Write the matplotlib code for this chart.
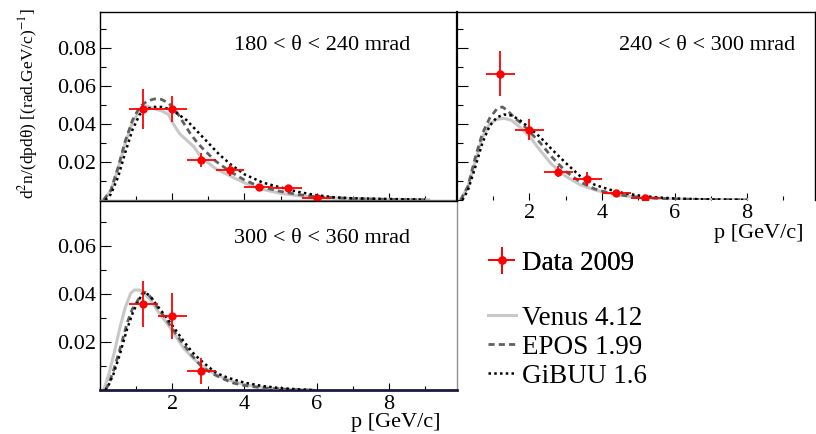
import matplotlib
matplotlib.use("Agg")
import matplotlib.pyplot as plt
import matplotlib.ticker as mticker

SERIF = 'Liberation Serif'
plt.rcParams['font.family'] = SERIF
plt.rcParams['font.serif'] = [SERIF]
plt.rcParams['mathtext.fontset'] = 'stix'

# ---------------- data ----------------
# 180 < theta < 240 mrad
d1_p = [1.2, 2.0, 2.8, 3.6, 4.4, 5.2, 6.0]
d1_y = [0.048, 0.048, 0.0212, 0.0157, 0.0066, 0.0063, 0.0009]
d1_ey = [0.0105, 0.007, 0.0038, 0.003, 0.002, 0.0015, 0.0005]

venus1_p = [0.1, 0.3, 0.5, 0.7, 0.9, 1.1, 1.3, 1.5, 1.7, 1.9, 2.0, 2.2, 2.4, 2.6, 2.8,
            3.2, 3.6, 4.0, 4.4, 5.0, 5.5, 6.0, 7.0, 8.0, 9.1]
venus1_y = [0.0, 0.005, 0.0165, 0.030, 0.041, 0.047, 0.0495, 0.048, 0.047, 0.045, 0.041,
            0.035, 0.0315, 0.028, 0.0225, 0.0165, 0.0127, 0.009, 0.006, 0.0035, 0.0022,
            0.0014, 0.0007, 0.0003, 0.0001]
epos1_p = [0.1, 0.3, 0.5, 0.7, 0.9, 1.1, 1.3, 1.5, 1.7, 1.9, 2.1, 2.3, 2.5, 2.7, 2.9,
           3.2, 3.6, 4.0, 4.4, 5.0, 5.5, 6.0, 7.0, 8.0, 9.0]
epos1_y = [0.0, 0.005, 0.017, 0.031, 0.042, 0.049, 0.052, 0.0532, 0.053, 0.051, 0.047,
           0.041, 0.035, 0.030, 0.026, 0.0205, 0.015, 0.0105, 0.0072, 0.0045, 0.0028,
           0.0017, 0.0007, 0.0003, 0.0001]
gibuu1_p = [0.15, 0.3, 0.5, 0.7, 0.9, 1.1, 1.3, 1.5, 1.7, 1.9, 2.1, 2.4, 2.7, 3.0, 3.3,
            3.6, 4.0, 4.5, 5.0, 5.5, 6.0, 6.5, 7.0, 8.0, 9.0]
gibuu1_y = [0.0, 0.003, 0.012, 0.025, 0.037, 0.045, 0.048, 0.049, 0.049, 0.048, 0.046,
            0.042, 0.036, 0.030, 0.024, 0.019, 0.0135, 0.0092, 0.0066, 0.0042, 0.0025,
            0.0014, 0.0009, 0.0005, 0.0002]

# 240 < theta < 300 mrad
d2_p = [1.2, 2.0, 2.8, 3.6, 4.4, 5.2]
d2_y = [0.0666, 0.037, 0.015, 0.011, 0.0037, 0.0009]
d2_ey = [0.012, 0.0055, 0.003, 0.0036, 0.0012, 0.0005]

venus2_p = [0.1, 0.3, 0.5, 0.7, 0.9, 1.1, 1.3, 1.5, 1.7, 2.0, 2.3, 2.6, 3.0, 3.4, 3.8,
            4.2, 4.6, 5.0, 5.5, 6.0, 7.0, 8.0]
venus2_y = [0.0, 0.007, 0.020, 0.033, 0.040, 0.0425, 0.043, 0.042, 0.039, 0.0335, 0.026,
            0.019, 0.0125, 0.008, 0.0053, 0.0035, 0.0023, 0.0015, 0.0009, 0.0005, 0.0002,
            0.0001]
epos2_p = [0.1, 0.3, 0.5, 0.7, 0.9, 1.1, 1.25, 1.4, 1.6, 1.8, 2.0, 2.3, 2.6, 3.0, 3.4,
           3.8, 4.2, 4.6, 5.0, 5.5, 6.0, 7.0, 8.0]
epos2_y = [0.0, 0.007, 0.022, 0.035, 0.043, 0.048, 0.049, 0.047, 0.043, 0.040, 0.036,
           0.030, 0.023, 0.015, 0.0095, 0.0058, 0.0037, 0.0024, 0.0015, 0.0009, 0.0005,
           0.0002, 0.0001]
gibuu2_p = [0.15, 0.3, 0.5, 0.7, 0.9, 1.1, 1.3, 1.5, 1.7, 2.0, 2.3, 2.6, 3.0, 3.4, 3.8,
            4.2, 4.6, 5.0, 5.5, 6.0, 6.5, 7.0, 8.0]
gibuu2_y = [0.0, 0.005, 0.017, 0.030, 0.039, 0.0435, 0.045, 0.0445, 0.0425, 0.038, 0.033,
            0.027, 0.0195, 0.0125, 0.008, 0.0055, 0.0036, 0.0024, 0.0014, 0.0008, 0.0005,
            0.0003, 0.0001]

# 300 < theta < 360 mrad
d3_p = [1.2, 2.0, 2.8]
d3_y = [0.036, 0.031, 0.0082]
d3_ey = [0.0097, 0.0097, 0.0054]

venus3_p = [0.1, 0.25, 0.4, 0.55, 0.7, 0.85, 0.95, 1.1, 1.2, 1.4, 1.6, 1.86, 2.1, 2.32,
            2.55, 2.78, 3.0, 3.24, 3.5, 3.7, 4.0, 4.5, 5.0, 5.5, 5.9]
venus3_y = [0.0, 0.007, 0.016, 0.026, 0.0345, 0.0404, 0.0418, 0.0418, 0.041, 0.0376,
            0.033, 0.0279, 0.0225, 0.0175, 0.0138, 0.0105, 0.0083, 0.0064, 0.0047,
            0.0036, 0.0024, 0.0012, 0.0006, 0.0003, 0.0001]
epos3_p = [0.15, 0.25, 0.38, 0.55, 0.75, 0.9, 1.03, 1.12, 1.21, 1.3, 1.45, 1.58, 1.86,
           2.1, 2.32, 2.55, 2.78, 3.0, 3.24, 3.5, 3.7, 4.0, 4.5, 5.0, 5.5, 5.9]
epos3_y = [0.0, 0.003, 0.0085, 0.017, 0.028, 0.034, 0.037, 0.0395, 0.041, 0.0405, 0.038,
           0.0348, 0.029, 0.0235, 0.019, 0.0145, 0.0105, 0.008, 0.006, 0.0042, 0.003,
           0.002, 0.001, 0.0005, 0.0002, 0.0001]
gibuu3_p = [0.15, 0.25, 0.38, 0.55, 0.75, 0.9, 1.05, 1.15, 1.25, 1.4, 1.6, 1.86, 2.1,
            2.32, 2.55, 2.78, 3.0, 3.24, 3.5, 3.7, 4.0, 4.5, 5.0, 5.5, 5.9]
gibuu3_y = [0.0, 0.0025, 0.007, 0.015, 0.0255, 0.032, 0.037, 0.0395, 0.041, 0.039, 0.035,
            0.030, 0.025, 0.0204, 0.016, 0.0126, 0.0098, 0.0071, 0.0055, 0.0045, 0.0032,
            0.0018, 0.0009, 0.0004, 0.0001]

bin_half_width = 0.4
panel_labels = ['180 < θ < 240 mrad', '240 < θ < 300 mrad', '300 < θ < 360 mrad']
legend_labels = ['Data 2009', 'Venus 4.12', 'EPOS 1.99', 'GiBUU 1.6']

# ---------------- styles ----------------
VENUS = dict(color='#c8c8c8', lw=2.2, ls='-')
EPOS = dict(color='#606060', lw=2.0, ls=(0, (2.2, 1.5)))
GIBUU = dict(color='black', lw=1.8, ls=(0, (1, 1.3)))
DATA = dict(fmt='o', color='red', ms=5, elinewidth=1.3, capsize=0)

fig = plt.figure(figsize=(8.16, 4.34), dpi=100)
ax1 = fig.add_axes([0.1225, 0.5392, 0.4375, 0.4332])
ax2 = fig.add_axes([0.5600, 0.5392, 0.4390, 0.4332])
ax3 = fig.add_axes([0.1225, 0.1006, 0.4375, 0.4363])

panels = [
    (ax1, d1_p, d1_y, d1_ey, venus1_p, venus1_y, epos1_p, epos1_y, gibuu1_p, gibuu1_y),
    (ax2, d2_p, d2_y, d2_ey, venus2_p, venus2_y, epos2_p, epos2_y, gibuu2_p, gibuu2_y),
    (ax3, d3_p, d3_y, d3_ey, venus3_p, venus3_y, epos3_p, epos3_y, gibuu3_p, gibuu3_y),
]

handles = {}
for ax, dp, dy, dey, vp, vy, ep, ey, gp, gy in panels:
    hv, = ax.plot(vp, vy, **VENUS, zorder=2)
    he, = ax.plot(ep, ey, **EPOS, zorder=3)
    hg, = ax.plot(gp, gy, **GIBUU, zorder=4)
    hd = ax.errorbar(dp, dy, yerr=dey, xerr=[bin_half_width] * len(dp), **DATA, zorder=5)
    handles = dict(data=hd, venus=hv, epos=he, gibuu=hg)

    ax.set_xlim(0, 9.88)
    ax.xaxis.set_major_locator(mticker.MultipleLocator(2))
    ax.xaxis.set_minor_locator(mticker.MultipleLocator(1))
    ax.yaxis.set_minor_locator(mticker.MultipleLocator(0.01))
    ax.tick_params(which='both', direction='in', top=False, right=False, width=0.8)
    ax.tick_params(axis='y', which='major', length=8, pad=3)
    ax.tick_params(axis='y', which='minor', length=4.5)
    ax.tick_params(axis='x', which='major', length=5, pad=3)
    ax.tick_params(axis='x', which='minor', length=3)
    for s in ax.spines.values():
        s.set_linewidth(1.0)

ax1.set_ylim(0, 0.099)
ax2.set_ylim(0, 0.099)
ax3.set_ylim(0, 0.0789)
ax1.set_yticks([0.02, 0.04, 0.06, 0.08])
ax2.set_yticks([0.02, 0.04, 0.06, 0.08])
ax3.set_yticks([0.02, 0.04, 0.06])
for ax in (ax1, ax3):
    ax.yaxis.set_major_formatter(mticker.FormatStrFormatter('%.2f'))
ax2.tick_params(axis='y', labelleft=False)
ax1.tick_params(axis='x', labelbottom=False)
ax2.set_xticks([2, 4, 6, 8])
ax3.set_xticks([2, 4, 6, 8])
for ax in (ax1, ax2, ax3):
    for lab in ax.get_xticklabels() + ax.get_yticklabels():
        lab.set_fontfamily(SERIF)
        lab.set_fontsize(16)

ax1.spines['bottom'].set_color('#808080')
ax3.spines['right'].set_color('#909090')
ax3.spines['bottom'].set_color('#1a1a40')
ax3.spines['bottom'].set_linewidth(2.0)
ax2.spines['left'].set_linewidth(1.6)
ax2.spines['bottom'].set_visible(False)

txt = dict(fontsize=16, family=SERIF)
ax1.text(0.623, 0.799, panel_labels[0], transform=ax1.transAxes, ha='center',
         va='baseline', **txt)
ax2.text(0.699, 0.799, panel_labels[1], transform=ax2.transAxes, ha='center',
         va='baseline', **txt)
ax3.text(0.622, 0.777, panel_labels[2], transform=ax3.transAxes, ha='center',
         va='baseline', **txt)

ax2.text(0.966, -0.178, 'p [GeV/c]', transform=ax2.transAxes, ha='right',
         va='center', **txt)
ax3.text(0.955, -0.168, 'p [GeV/c]', transform=ax3.transAxes, ha='right',
         va='center', **txt)

fig.text(0.034, 0.762, r'd$^{2}$n/(dpdθ) [(rad.GeV/c)$^{-1}$]', rotation=90,
         ha='center', va='center', fontsize=12.5, family=SERIF)

# legends
leg_kw = dict(frameon=False, prop=dict(family=SERIF, size=19.5), handlelength=1.03,
              handletextpad=0.21, borderpad=0, borderaxespad=0, loc='center left')
leg1 = fig.legend([handles['data']], legend_labels[:1], bbox_to_anchor=(0.598, 0.393),
                  **leg_kw)
leg2 = fig.legend([handles['venus'], handles['epos'], handles['gibuu']],
                  legend_labels[1:], bbox_to_anchor=(0.598, 0.200),
                  labelspacing=0.15, **leg_kw)
fig.add_artist(leg1)

fig.savefig('out.png', dpi=100)
